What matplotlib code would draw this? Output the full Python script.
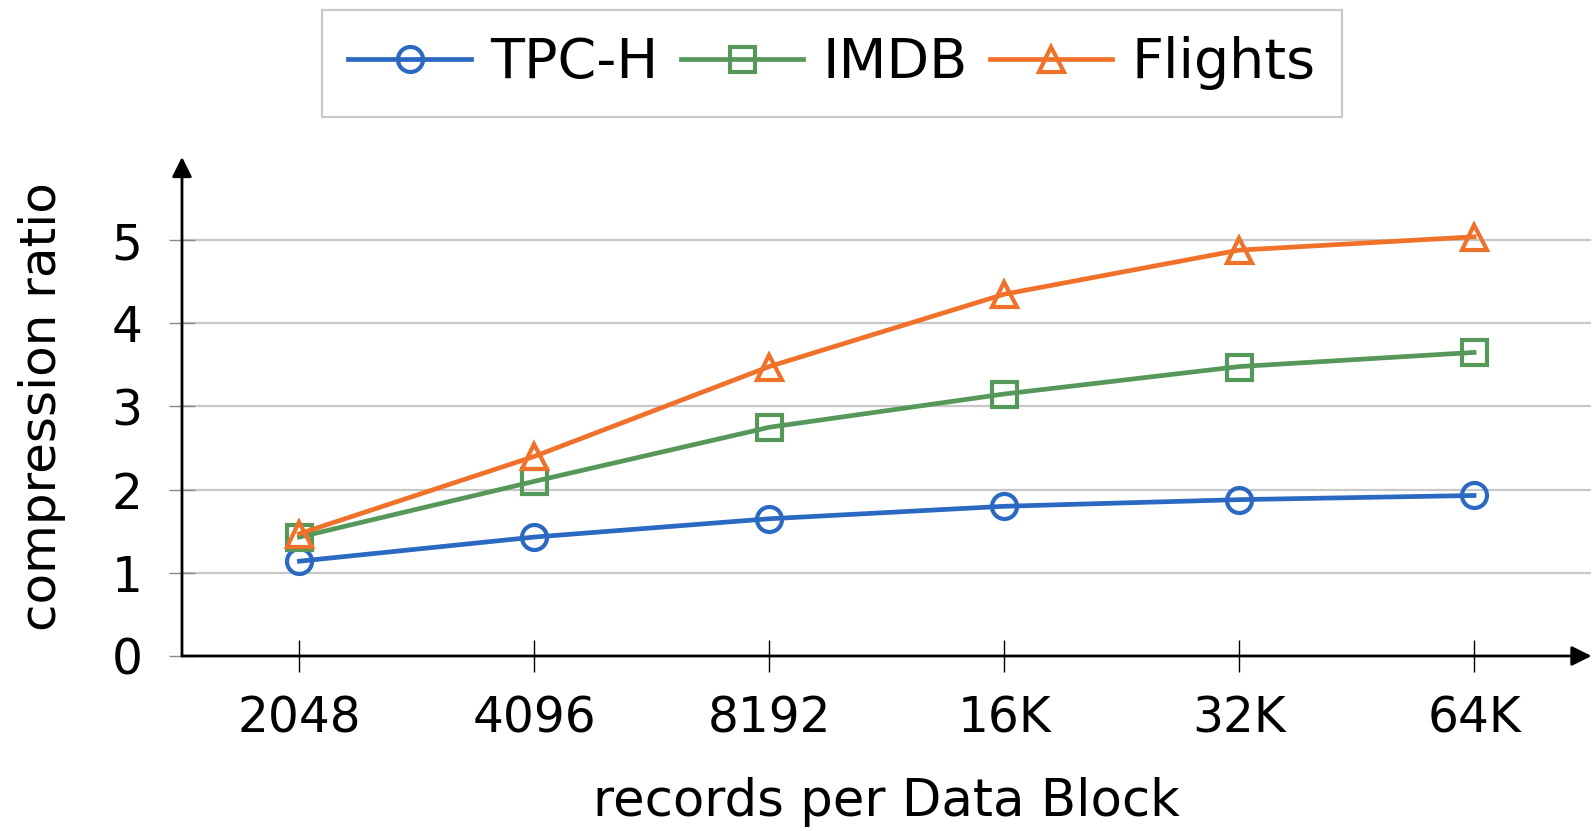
import matplotlib
matplotlib.use("Agg")
import matplotlib.pyplot as plt

# compression ratio per block size
block_sizes = ["2048", "4096", "8192", "16K", "32K", "64K"]
tpch = [1.14, 1.43, 1.65, 1.80, 1.88, 1.93]
imdb = [1.43, 2.10, 2.75, 3.15, 3.48, 3.65]
flights = [1.47, 2.40, 3.48, 4.35, 4.88, 5.04]

series = [
    ("TPC-H", tpch, "#2A68C2", "o"),
    ("IMDB", imdb, "#55985A", "s"),
    ("Flights", flights, "#F0712A", "^"),
]

plt.rcParams["font.family"] = "DejaVu Sans"

fig = plt.figure(figsize=(15.95, 8.31), dpi=100)
ax = fig.add_axes([0.1141, 0.2106, 0.8837, 0.6005])

x = list(range(len(block_sizes)))
for name, vals, color, marker in series:
    ax.plot(x, vals, color=color, lw=3.4, marker=marker, markersize=18,
            markerfacecolor="none", markeredgewidth=3.0, label=name,
            clip_on=False, zorder=3)

ax.set_xlim(-0.5, 5.5)
ax.set_ylim(0, 6)
ax.set_xticks(x)
ax.set_xticklabels(block_sizes)
ax.set_yticks(range(6))

for s in ax.spines.values():
    s.set_visible(False)

# horizontal grid
for yv in range(1, 6):
    ax.axhline(yv, color="#c8c8c8", lw=1.6, zorder=1)

# axis lines with arrow heads
arrow = dict(arrowstyle="-|>", color="black", lw=2.0, mutation_scale=30,
             shrinkA=0, shrinkB=0)
ax.annotate("", xy=(1.0, 0), xytext=(0, 0), xycoords="axes fraction",
            arrowprops=arrow)
ax.annotate("", xy=(0, 1.0), xytext=(0, 0), xycoords="axes fraction",
            arrowprops=arrow)

ax.tick_params(axis="x", direction="inout", length=23, width=1.0,
               pad=16, labelsize=35)
ax.tick_params(axis="y", direction="inout", length=19, width=1.0,
               pad=19, labelsize=35, color="#888888")

ax.set_xlabel("records per Data Block", fontsize=37, labelpad=25)
ax.set_ylabel("compression ratio", fontsize=36, labelpad=33)

leg = fig.legend(loc="center", bbox_to_anchor=(0.5216, 0.9236), ncol=3,
                 fontsize=40, handlelength=2.2, handletextpad=0.35,
                 columnspacing=0.4, frameon=True, fancybox=False,
                 borderpad=0.48)
leg.get_frame().set_edgecolor("#bbbbbb")
leg.get_frame().set_linewidth(1.6)

fig.savefig("out.png", dpi=100)
